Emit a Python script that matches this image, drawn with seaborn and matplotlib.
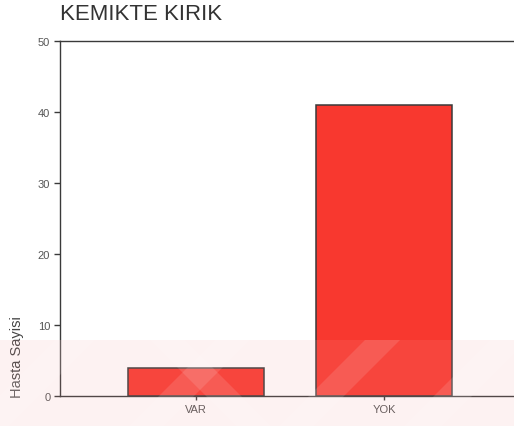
import matplotlib
matplotlib.use("Agg")
import matplotlib.pyplot as plt
from matplotlib.patches import Polygon, Rectangle
import pandas as pd
import seaborn as sns

# Data
categories = ["VAR", "YOK"]
counts = [4, 41]
y_ticks = [0, 10, 20, 30, 40, 50]
title = "KEMIKTE KIRIK"
y_label = "Hasta Sayisi"

sns.set_theme(style="white")
plt.rcParams["font.family"] = ["Liberation Sans", "DejaVu Sans"]

W, H = 514, 427
fig = plt.figure(figsize=(W / 100, H / 100), dpi=100)
fig.patch.set_facecolor("white")

# axes box in pixel terms: left 60, top 42, bottom 397; right edge runs past the figure
ax = fig.add_axes([60 / W, 1 - 397 / H, 465 / W, (397 - 42) / H])

df = pd.DataFrame({"kategori": categories, "sayi": counts})
sns.barplot(data=df, x="kategori", y="sayi", order=categories, color="#f8382f",
            saturation=1, width=0.72, edgecolor="#3a3a3a", linewidth=1.1, ax=ax)

ax.set_xlim(-0.723, 1.75)
ax.set_ylim(0, 50)
ax.set_yticks(y_ticks)
ax.set_xlabel("")
ax.set_ylabel("")

for side in ("left", "bottom", "top"):
    ax.spines[side].set_visible(True)
    ax.spines[side].set_color("#3a3a3a")
    ax.spines[side].set_linewidth(1.0)
ax.spines["right"].set_visible(False)

ax.tick_params(axis="y", which="both", left=True, length=4, width=1, color="#3a3a3a",
               labelsize=8, labelcolor="#555555", pad=3)
ax.tick_params(axis="x", which="both", bottom=True, length=3, width=1, color="#3a3a3a",
               labelsize=8, labelcolor="#555555", pad=3)

fig.text(60 / W, 1 - 15 / H, title, fontsize=16, color="#333333", ha="left", va="center")
fig.text(17 / W, 1 - 357 / H, y_label, fontsize=10.5, color="#444444", rotation=90,
         ha="center", va="center")

# faint pink chevron band across the lower edge
band_top = 341
fig.patches.append(Rectangle((0, 0), 1, 1 - band_top / H, transform=fig.transFigure,
                             facecolor="#f3a0a0", alpha=0.13, edgecolor="none", zorder=10))
stripes = [((55, 95), -86), ((150, 185), 86), ((215, 250), -86),
           ((365, 400), -86), ((490, 528), -86)]
for (x0, x1), dx in stripes:
    pts = [(x0, band_top), (x1, band_top), (x1 + dx, H), (x0 + dx, H)]
    pts = [(px / W, 1 - py / H) for px, py in pts]
    fig.patches.append(Polygon(pts, closed=True, transform=fig.transFigure,
                               facecolor="white", alpha=0.12, edgecolor="none", zorder=11))

fig.savefig("out.png", dpi=100)
